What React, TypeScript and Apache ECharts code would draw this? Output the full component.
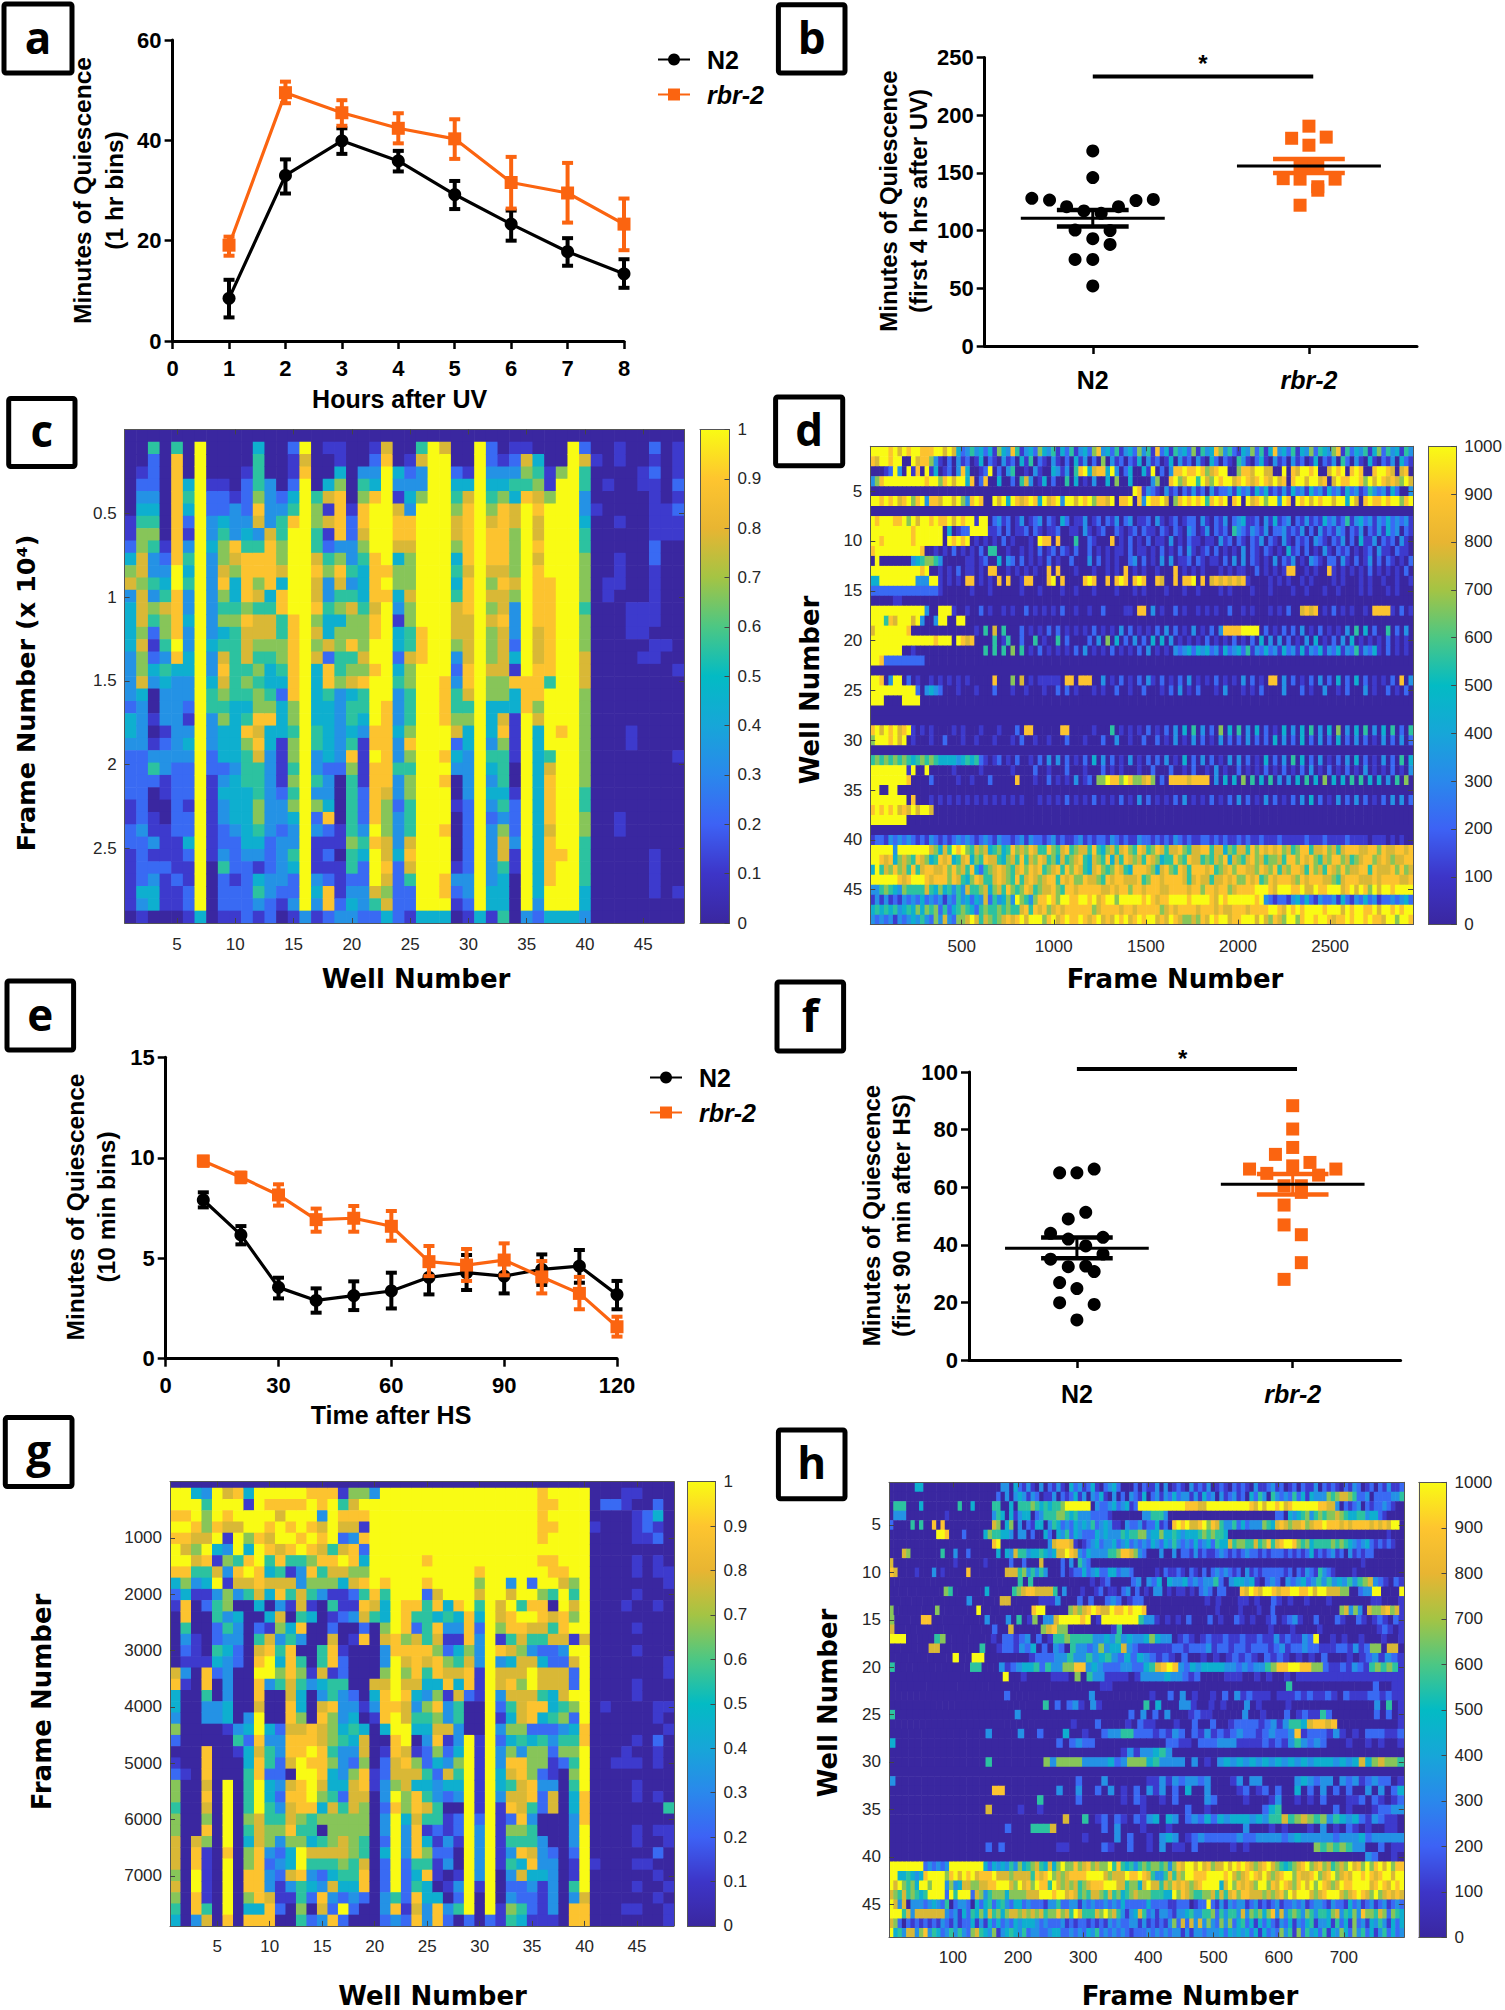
import React, { useEffect, useRef } from "react";
import * as echarts from "echarts";

// ---------- panels a / e: time courses ----------
const hoursA = [1, 2, 3, 4, 5, 6, 7, 8];
const n2A = [8.5, 33, 39.9, 35.9, 29.2, 23.3, 17.8, 13.4];
const n2ALow = [4.7, 29.4, 37.3, 33.8, 26.3, 20, 15, 10.6];
const n2AHigh = [12.2, 36.2, 42.4, 37.9, 31.9, 26, 20.5, 16.3];
const rbrA = [19.1, 49.5, 45.5, 42.4, 40.3, 31.6, 29.5, 23.3];
const rbrALow = [17, 47.4, 42.9, 39.4, 36.3, 26.4, 23.6, 18.1];
const rbrAHigh = [20.8, 51.7, 48, 45.4, 44.2, 36.7, 35.5, 28.4];

const timeE = [10, 20, 30, 40, 50, 60, 70, 80, 90, 100, 110, 120];
const n2E = [7.9, 6.16, 3.55, 2.9, 3.14, 3.37, 4.05, 4.28, 4.11, 4.45, 4.61, 3.19];
const n2ELow = [7.53, 5.69, 3.0, 2.29, 2.42, 2.5, 3.2, 3.42, 3.25, 3.67, 3.78, 2.46];
const n2EHigh = [8.28, 6.6, 4.03, 3.5, 3.85, 4.28, 4.75, 5.16, 4.9, 5.19, 5.41, 3.87];
const rbrE = [9.84, 9.03, 8.15, 6.92, 6.99, 6.59, 4.83, 4.66, 4.91, 4.07, 3.25, 1.59];
const rbrELow = [9.6, 8.78, 7.62, 6.32, 6.32, 5.87, 4.11, 3.87, 4.15, 3.25, 2.46, 1.1];
const rbrEHigh = [10.05, 9.26, 8.68, 7.47, 7.6, 7.35, 5.61, 5.46, 5.74, 4.86, 4.07, 2.09];

// ---------- panels b / f: per-experiment points [x position, minutes] ----------
const n2B = [[1, 169], [1, 146], [0.718, 128], [0.8, 126.5], [0.879, 120.7], [0.959, 117], [1.039, 115], [1.119, 120.7], [1.2, 126], [1.28, 127], [0.918, 100.5], [1.08, 100], [1, 93], [1.08, 88], [0.918, 75], [1, 75], [1, 52]];
const rbrB = [[2, 190.5], [1.92, 180], [2.08, 181], [2, 174], [2, 156], [1.959, 156], [2.041, 156], [1.881, 145], [1.959, 144.6], [2.121, 144.6], [2.041, 138], [2.041, 135], [1.959, 122]];
const statB = { n2: [110.6, 103.6, 117.8], rbr: [156, 150, 162], bar: 233.5 };

const n2F = [[1.08, 66.3], [0.92, 65], [1, 65], [1.041, 51.3], [0.96, 49], [0.878, 44], [1.121, 42.6], [0.96, 42], [1.041, 39.6], [1.121, 36.8], [0.878, 35], [0.96, 32.4], [1.041, 32.6], [1.08, 30.7], [0.92, 26.9], [1, 24.8], [0.92, 19.9], [1.08, 19.3], [1, 13.9]];
const rbrF = [[2, 88.3], [2, 80.2], [2, 73.8], [1.92, 71.4], [2.08, 68.6], [2, 67.4], [1.8, 66.3], [2.2, 66.3], [1.88, 64.8], [2.12, 64.2], [1.96, 60.5], [2.04, 60.5], [2.04, 58.2], [1.96, 53.8], [1.96, 46.9], [2.04, 43.5], [2.04, 33.8], [1.96, 28]];
const statF = { n2: [38.8, 35.3, 42.5], rbr: [61, 57.5, 64.6], bar: 101 };

// ---------- heat maps: one digit per cell, 0 (none) to 9 (full scale) ----------
// panel c: one string per well, read from top to bottom
const wellsC = [
"0000000112467344443333244322221122111110",
"0001234566776777676674333322222232222431",
"0522234565335365212430010135200113123440",
"0000000001234576653543331233110011121110",
"0588888888899888898433333332222221112110",
"0000454213545334334433213432221224211221",
"0999999999999999999999999999999999999994",
"0000122334333333343345533322111111100000",
"0000122456678656457876564442343322352221",
"0000013338764456555555444443444432221221",
"0001222345888868777565458655544444322222",
"0455568735886757765656687875556654314531",
"0000333378888457765445684433333332223322",
"0000023556674885566542444111123323333210",
"0211245899999998888888665665656433542231",
"0978999999999999999999999999999999999993",
"0000056655787786767444445533536231113431",
"0100471712563354472885444442334821212882",
"0114688883687564665563333332000011011123",
"0000001223353576685674554586555556552343",
"0003568876544456667685543111122235422332",
"0123489999888878899899998898888898999752",
"0789999999989899999999888888876667787674",
"0004317887466431442453334335332333422222",
"0012343887666766557665556865665557875221",
"0573369999999999888999999999999999999994",
"0999999999999999999999999999999999999994",
"0799999999999999999988889989899989998894",
"0002456776454577763235567243001000013210",
"0001478888878887777887564433332222223321",
"0999999999999999999999999999999999999994",
"0223456788876767666766444354343233333441",
"0013468888878778777766478655545367754445",
"0123547766667633324184411110012223110000",
"0176589999999999999988899999999999999993",
"0045678778788888777888674444444444444432",
"0001169999998888888859999957888878888994",
"0006999999999999999999998999999999899994",
"0999999999999999999999999999999999999994",
"0275533455666656667776666666655665555443",
"0010001000000000000000000000000000000000",
"0000100000001100000000000000000000000000",
"0110000100111000000000000000000110000000",
"0000000000000011100000001100000000000000",
"0001100000000011101000000000000000000000",
"0212111112211111011000000000000000111100",
"0000001110000000010000000000000000000000",
"0111212110000000000100000010000000000100",
];

// panel d: one string per well, read from left to right
const wellsD = [
"999989798998889979742353424164385134264351425134268342513426351824153426153486352143625148342514362543681524351462534153",
"879989900978863102031201402103120415021031020413020603120214031201403120310420210531024103120312014021305203104102130421",
"000129309180914012038400129020350010310043130589478849302400419020388988986789900688799770090879989007989089800899870780",
"368999999999899689799480280040020573014020050401030040600400003600896799597698997898789879780899799780798899869798787697",
"000000000000000000000000000000000000000000000000000000000098132103120213120312231423142412131423142314231423125323142003",
"998989789689388799796389800979498789849789399798968879088908398897068989895898908909789699398098979899799497089889899689",
"0",
"989998896979989889798991990231201301230210420113012021302301120310120122031021302341120314123021312142312513423132423231",
"999999999899999904012299991120201120210112001103101200210120211021021032013021205321321302231213020312132021302131423021",
"998999999899999909898901010102010001098808000500210008010201020110301021101103120210213021031021203210213020411302120310",
"899999999998001010201010205500100101020120210200201010110201101020102031012020101030210210104120201031021201012031102110",
"090000000345665300000110120040320201010201002000302010100230201030301120210110203030210103021301032102203102013020210102",
"999999999998900101020110108800101010100808000100010010108010100100080101010001010110020101018800101008101010102010101020",
"449999999933399101010880101080800188000890800008980080898089800870080889080787878781000010101001010000101000101001001001",
"222222222222222100000010001000000100010000100100010000100010100001000100100001010000100010000100100010010000101000101000",
"000001100000000000000000000000000000000000000000000000000000000000000000000000000000000000000000000000000000000000000000",
"999999999999300999100100201001010020101010200100100200001108803010020100101010020010100010102007878010201010010888810201",
"999587999793003990099000000000000000000000000000000000000000000000000000000000000000000000000000000000000000000000000000",
"799999998000000000000001050705000201010202010101020101030201010203020103010203888899990201020203010201010305040200502030",
"999999999999998999098780000501500200501005020000203060402030204040301010102010102010204030302010304010203040101010201010",
"999999900100000000000000050505060501020101010203010102010102030101032342434231423425132423142314132413241325132410201010",
"998222222222000000000000000000000000000000000000000000000000000000000000000000000000000000000000000000000000000000000000",
"0",
"998039902010010101010100000800060701011111088088800301020102031020102030101020101030201088030201020302040204020101020803",
"999999999920343200010001000200010010001002020100010100200100200010203010200010300010102000030002010030010200030100201020",
"999000099990000000000000000000000000000000000000000000000000000000000000000000000000000000000000000000000000000000000000",
"0",
"0",
"897989789101010000101000100010002088000000880000010005010101020102030405030206040503040201040304050304060304050304050205",
"699989790100010020001001000100010200100100020001000200300100200201030103020103020203020204030204020302040203020103020302",
"0",
"565656565456565444434545210120102001020303020102040302010301020203010402030201030302010402030504020301020304020103020504",
"999999991900900000100000100000010000200100020001000201010001002000200102001030100201010201020102030102010201030101020103",
"999999998000020000010010002000008000100201010301206698869866786020888878888030404060504050303040504060404050504040305060",
"990099000000000000000000000000000000000000000000000000000000000000000000000000000000000000000000000000000000000000000000",
"999999990800010101010101010101010100010101020101020101020103020101020301010201020302010302010203040201030203020102030302",
"898989787979970000000000000000000000000000000000000000000000000000000000000000000000000000000000000000000000000000000000",
"999999990000000000000000000000000000000000000000000000000000000000000000000000000000000000000000000000000000000000000000",
"0",
"122132323212132121232321232132212313221231211231212213212113221212132121122121211212112111211111211121111211110111010100",
"999993999999976475989657674564586768755865785677585467578658756875778657788577465775868787867568857786757888778868778878",
"998784676587645878457846587754675857687564756785476584758767587645586587756576847657867566758868786576886756788678767788",
"495768675857887786867584256787657868785678586875478656875488876478658758887856786887768768576887586758768677885877786867",
"999999878999878886875468755787658578767885878668776587887778568878888757877577878668785687888768788877657888777878888778",
"335654365555754645353755674675865687567786588788888778788688788877888878868878867888899987999889779889997897986979989999",
"131312132324232313253424372534639653688986998899897899699999898788999989999879899999989321221342421322314213242312232342",
"454545345464656252456542565565655785878678788888867888878878888867878888788878778887888899879898999989997989988979989899",
"323231323435326373266797576567878979996897898898789787989789899787987667687989978899979768769968998998788989989887996998",
];

// panel g: one string per well, read from top to bottom
const wellsG = [
"0998989984210000078443620126656677767654",
"0998987986488532131000000010000000000000",
"0499876753100011100000000000000078899883",
"0356679854120000188533008887876861111157",
"0999894179355225420033000000000000000000",
"0798713631663534333344100009999998999998",
"0899799587304332200000351000000000000000",
"0419964897500000000003424455556546688648",
"0999989988740257898879987889997778888848",
"0989878547404178993000435524455663233788",
"0987997857837635465000233223235632321120",
"0989898517510458887788788707877864473100",
"0989989533775830565446788998886569985565",
"0899898686514000013000889899985547534202",
"0883787856300005574378778887646057523873",
"0899995876151278815586665644576667547328",
"0158727974112001225333453334256677654292",
"0678738867213010000234543267776666554320",
"0698182468587280000010477688766655788200",
"0399999999875000007431000011000000000000",
"0999999998544673367888401223323324222332",
"0999999999999988999989988776989999999583",
"0999999999988868767877997877664333222212",
"0999999999985278887435401674887888545878",
"0999999898255558754365432254575146584433",
"0999999999784876884686786423355212110488",
"0999999999945312678133712374201132301032",
"0999999999984314574755334654302210013250",
"0999999999998886788200099999999999999992",
"0999999986754233311100011111112333331000",
"0999999999999999999999999999999999999992",
"0999999999977618377321323344311111100011",
"0999999993798857478754646875782653532365",
"0999999999959876776777653887778658472254",
"0999999992989753799788246668853557843221",
"0888889899688752477584256623220033341111",
"0989899889507572277445232113770002333331",
"0999999987998873277756356200000000000000",
"0999999996576919722962456565443332115388",
"0999999999999979999999889999888999999788",
"0000100000000000000000000000000000100000",
"0020000000000000000010000000000000000000",
"0020000000000000000000000100000000000000",
"0110000000010000000000001100000000000010",
"0101110110100101001100010101100110101010",
"0002210000000000000000000000000000100000",
"0024120110010000000011021100100102010100",
"0000000011000000110010100000050110001011",
];

// panel h: one string per well, read from left to right
const wellsH = [
"000000440000000000000000003304213103021310423124102342000202113030121031213012102121031123120120211302121021320120213112",
"000000000000000000000000020303431320113021241303241030203214023132423313142303123120425305323252414333656776522302222335",
"055500040000000050040000550040555654545569999990322342341299999999999888779999999999879799897899999988773021230212232100",
"033300000000010000000000354041344023555665453332222100000003355530000000000000000000000000220434563565667654455344210000",
"200005050080800000000000760460302144035423243435234311032231224120898977896875335242333654787677867889888787888878787990",
"000000000009980002000046554430330200420435243222434333545566344644543444565655400000000000000000000000000000000000001000",
"000000000000000000000000890000000000037888710123423342342323243243532324234254475665575685789986564555565654323421212100",
"000760000000500300200000040437553445434779873243333556887632000300302213121123212123221212221212124121231203121220000000",
"700000000000000100000010000020020007000020305320000000000000000000000000000000000000000000000000000000000000001000000000",
"870000100030100000800000000777563535300020122423422442332000001021121021020232321203121222221202132153210000100000000000",
"0000000000000000000000000505000000000001012000023032404334232335203443410232032342353534353567321021",
"00000000000065000000040000056788777750300010012011023020103301011010232022000879879987889988979977766002339900009",
"000000000000003000007700000111300020200232012200000000000101000110100210100100010000000110001",
"6000000000600000000900000000000899000006767898779889899800000000000000010000100010020000000000000067363076678671",
"6000008800000000003000305016033799998901999999953310101020002010021010012012310020002100210121021",
"70000000000000000002007000006786600000000150000000000000000000000000001000100001000000000012101",
"9990000056000000001022123020155655553343534334643301210121121121121131211329001010010001001",
"0000000770000000500122132402032053323634473211111122122231221221222123122322111221312660770",
"000000000090099000000012223353353453242432121020010101212102121010102000101231321",
"50000000000000550003123445253366883432223322457898324344443323233568899886621121321565651",
"00000000000000000009001000011106053311110133334332120000111001010010111111111111111111",
"00000000000000000000000000000000001100000000000000000000000000005000000000000020011",
"0000000000000000000200000000000003000000000100203010010203121110111212112102111221211",
"000000000000000000000000005020231031000000050400033100101000301000010000000000000030501",
"50000000000000000000030000000000000000002030203000121100000300100020121152000000020201",
"0000000000000000000000000000001000200001021100010020020012222123135547887800000000001",
"00000000000000030000300200040010023355222121320213121232212322381222131010222112",
"40000000000000000000000000202322000000000002211022233311112121353232000100101001",
"00000000000000000000000000000000000013133453000000000000000000000000000000000000",
"00000000000000050000000063666633334236664533330301034343434343434344434347467665",
"0",
"30000000000000000000000000000200030000001131323323000130330000034323303231232201",
"00000000000000008800000000300300203010203130204003000012012020040203020200303024",
"00000000000000000000000500000200000010210010200003200001000130010102000112021012",
"00000000000000070000100100000000000000010000002001000000002450000000020100012233",
"00000000000000000000000000070050120210213404302324243444343557567656354342132110",
"00000000000000000020005557000000020300010001000000000003000101000103010210100110",
"00000000000000000000000000000010000302001034301232222232233332343333323334233333",
"00000000000000020200000000110000021002001030110200000101000000000065656533002011",
"00000000000000000000000000000000000000000000000000000000000000000000000000320010",
"999999992323239999999942434353645675474696686786766958545356566563687997978677979898767897654567896786756769786968979688",
"994454348999968979897888977767777587896767888899997677798898753357576998889999897678987976789968778967896787998987899799",
"979656499699936347766778899976978698859767675678889997756647977576878767899994796878769968798768979698767988999978987989",
"765756545999929599927635666466667779998997875657765756456766655544968765566757578688777676786979997678999767898769678787",
"973703332343250233204245245324423222133522331323223232422222422221122201229213132331231212312232312332132214231231231232",
"999573777777732314254647564677676767566867597555769675313475231332133453355625355373656468373565365355467354638665762654",
"762021212121321312241314242324344432322231212212121323223313121213627273736326362452414242132413245133415241623143531424",
"945377368354235353267543613454352332234422323243523232321222323232331313323334243434241423263516253425143642635241352423",
];

const PARULA = ["#3a27a0", "#3d35c8", "#3d62f5", "#2a88ec", "#17a6d8", "#03bbc4", "#4cc784", "#a4c444", "#e8b532", "#fec52f", "#f9fb14"];
const ORANGE = "#fb6410";
const SANS = '"Liberation Sans", Arial, sans-serif';
const HEAVY = '"DejaVu Sans", sans-serif';
const PANEL_FONT = '"Open Sans", "Noto Sans", sans-serif';

const px = (l: number, t: number, r: number, b: number) => ({ left: l, top: t, width: r - l, height: b - t, containLabel: false });
const plain = (v: number) => String(v);

const renderError = (capPx: number, color: string, w: number) => (_p: any, api: any) => {
  const top = api.coord([api.value(0), api.value(2)]);
  const bot = api.coord([api.value(0), api.value(1)]);
  const st = { stroke: color, lineWidth: w };
  return {
    type: "group",
    children: [
      { type: "line", shape: { x1: top[0], y1: top[1], x2: bot[0], y2: bot[1] }, style: st },
      { type: "line", shape: { x1: top[0] - capPx, y1: top[1], x2: top[0] + capPx, y2: top[1] }, style: st },
      { type: "line", shape: { x1: bot[0] - capPx, y1: bot[1], x2: bot[0] + capPx, y2: bot[1] }, style: st },
    ],
  };
};

// data item: [group x, mean, low, high]
const renderMean = (color: string) => (_p: any, api: any) => {
  const x = api.value(0);
  const seg = (x1: number, v1: number, x2: number, v2: number, c: string, w: number) => {
    const a = api.coord([x1, v1]);
    const b = api.coord([x2, v2]);
    return { type: "line", shape: { x1: a[0], y1: a[1], x2: b[0], y2: b[1] }, style: { stroke: c, lineWidth: w } };
  };
  return {
    type: "group",
    children: [
      seg(x, api.value(2), x, api.value(3), color, 3),
      seg(x - 0.166, api.value(2), x + 0.166, api.value(2), color, 4.5),
      seg(x - 0.166, api.value(3), x + 0.166, api.value(3), color, 4.5),
      seg(x - 0.333, api.value(1), x + 0.333, api.value(1), "#000", 3),
    ],
  };
};

const renderCell = (_p: any, api: any) => {
  const a = api.coord([api.value(0), api.value(2)]);
  const b = api.coord([api.value(1), api.value(3)]);
  return {
    type: "rect",
    shape: {
      x: Math.min(a[0], b[0]),
      y: Math.min(a[1], b[1]),
      width: Math.abs(b[0] - a[0]) + 0.6,
      height: Math.abs(b[1] - a[1]) + 0.6,
    },
    style: { fill: api.visual("color") },
  };
};

// strings to cells; vertical=true means each string is a column of the map
const cells = (rows: string[], vertical: boolean, x0: number, x1: number, y0: number, y1: number, full: number) => {
  const out: number[][] = [];
  rows.forEach((s, i) => {
    for (let j = 0; j < s.length; j++) {
      const v = (Number(s[j]) / 9) * full;
      if (vertical) {
        const cw = (x1 - x0) / rows.length;
        const ch = (y1 - y0) / s.length;
        out.push([x0 + i * cw, x0 + (i + 1) * cw, y0 + j * ch, y0 + (j + 1) * ch, v]);
      } else {
        const cw = (x1 - x0) / s.length;
        const ch = (y1 - y0) / rows.length;
        out.push([x0 + j * cw, x0 + (j + 1) * cw, y0 + i * ch, y0 + (i + 1) * ch, v]);
      }
    }
  });
  return out;
};

function buildOption() {
  const grid: any[] = [];
  const xAxis: any[] = [];
  const yAxis: any[] = [];
  const series: any[] = [];
  const cellSeries01: number[] = [];
  const cellSeries1000: number[] = [];

  const prismAxes = (g: any, x: any, y: any) => {
    const gi = grid.length;
    grid.push(g);
    const xi = xAxis.length;
    const yi = yAxis.length;
    const label = { fontFamily: SANS, fontWeight: "bold", fontSize: 22, color: "#000" };
    xAxis.push({
      gridIndex: gi, type: "value", splitLine: { show: false }, z: 5,
      axisLine: { onZero: false, lineStyle: { color: "#000", width: 3 } },
      axisTick: { length: 8, lineStyle: { color: "#000", width: 2.5 } },
      ...x, axisLabel: { ...label, margin: 16, hideOverlap: false, showMinLabel: true, showMaxLabel: true, ...x.axisLabel },
    });
    yAxis.push({
      gridIndex: gi, type: "value", splitLine: { show: false }, z: 5,
      axisLine: { onZero: false, lineStyle: { color: "#000", width: 3 } },
      axisTick: { length: 8, lineStyle: { color: "#000", width: 2.5 } },
      ...y, axisLabel: { ...label, margin: 11, showMinLabel: true, showMaxLabel: true },
    });
    return { xi, yi };
  };

  const boxAxes = (g: any, xr: number[], yr: number[], xt: number[], yt: number[], xm: number) => {
    const gi = grid.length;
    grid.push(g);
    const xi = xAxis.length;
    const yi = yAxis.length;
    const line = { show: true, onZero: false, lineStyle: { color: "#555", width: 1 } };
    const tick = { show: true, inside: true, length: 5, lineStyle: { color: "#444", width: 1 } };
    const lab = { fontFamily: SANS, fontSize: 17, color: "#262626", showMinLabel: true, showMaxLabel: true, formatter: plain };
    xAxis.push({ gridIndex: gi, type: "value", min: xr[0], max: xr[1], position: "bottom", z: 5, splitLine: { show: false }, axisLine: line, axisTick: { ...tick, customValues: xt }, axisLabel: { ...lab, customValues: xt, margin: xm } });
    xAxis.push({ gridIndex: gi, type: "value", min: xr[0], max: xr[1], position: "top", z: 5, splitLine: { show: false }, axisLine: line, axisTick: { ...tick, customValues: xt }, axisLabel: { show: false } });
    yAxis.push({ gridIndex: gi, type: "value", inverse: true, min: yr[0], max: yr[1], position: "left", z: 5, splitLine: { show: false }, axisLine: line, axisTick: { ...tick, customValues: yt }, axisLabel: { ...lab, customValues: yt, margin: 8 } });
    yAxis.push({ gridIndex: gi, type: "value", inverse: true, min: yr[0], max: yr[1], position: "right", z: 5, splitLine: { show: false }, axisLine: line, axisTick: { ...tick, customValues: yt }, axisLabel: { show: false } });
    return { xi, yi };
  };

  const colorbar = (g: any, full: number, step: number) => {
    const gi = grid.length;
    grid.push(g);
    const xi = xAxis.length;
    const yi = yAxis.length;
    const line = { show: true, onZero: false, lineStyle: { color: "#555", width: 1 } };
    const cat = { gridIndex: gi, type: "category", data: ["scale"], z: 5, axisLine: line, axisTick: { show: false }, axisLabel: { show: false } };
    xAxis.push({ ...cat, position: "bottom" }, { ...cat, position: "top" });
    yAxis.push({
      gridIndex: gi, type: "value", min: 0, max: full, interval: step, position: "right", z: 5, splitLine: { show: false }, axisLine: line,
      axisTick: { show: true, inside: true, length: 5, lineStyle: { color: "#444", width: 1 } },
      axisLabel: { fontFamily: SANS, fontSize: 17, color: "#262626", margin: 8, showMinLabel: true, showMaxLabel: true, formatter: plain },
    });
    yAxis.push({ gridIndex: gi, type: "value", min: 0, max: full, position: "left", z: 5, splitLine: { show: false }, axisLine: line, axisTick: { show: false }, axisLabel: { show: false } });
    series.push({
      type: "bar", name: "scale " + gi, xAxisIndex: xi, yAxisIndex: yi, barWidth: "100%", data: [full], silent: true,
      itemStyle: {
        color: new echarts.graphic.LinearGradient(0, 0, 0, 1, PARULA.map((c, i) => ({ offset: 1 - i / (PARULA.length - 1), color: c })).reverse()),
      },
    });
  };

  const timeCourse = (
    a: { xi: number; yi: number }, xs: number[],
    n2: number[], nl: number[], nh: number[], rb: number[], rl: number[], rh: number[],
  ) => {
    const zip3 = (l: number[], h: number[]) => xs.map((x, i) => [x, l[i], h[i]]);
    const base = { xAxisIndex: a.xi, yAxisIndex: a.yi };
    series.push({ ...base, type: "custom", name: "N2 SEM", data: zip3(nl, nh), renderItem: renderError(5.5, "#000", 4), encode: { x: 0, y: [1, 2] }, silent: true, z: 3 });
    series.push({ ...base, type: "line", name: "N2", data: xs.map((x, i) => [x, n2[i]]), symbol: "circle", symbolSize: 13, lineStyle: { color: "#000", width: 3.2 }, itemStyle: { color: "#000" }, z: 3 });
    series.push({ ...base, type: "custom", name: "rbr-2 SEM", data: zip3(rl, rh), renderItem: renderError(5.5, ORANGE, 4), encode: { x: 0, y: [1, 2] }, silent: true, z: 4 });
    series.push({ ...base, type: "line", name: "rbr-2", data: xs.map((x, i) => [x, rb[i]]), symbol: "rect", symbolSize: 13, lineStyle: { color: ORANGE, width: 3.2 }, itemStyle: { color: ORANGE }, z: 4 });
  };

  const dotPlot = (a: { xi: number; yi: number }, n2: number[][], rb: number[][], stat: any) => {
    const base = { xAxisIndex: a.xi, yAxisIndex: a.yi };
    series.push({ ...base, type: "scatter", name: "N2 wells", data: n2, symbol: "circle", symbolSize: 13, itemStyle: { color: "#000", opacity: 1 }, z: 3 });
    series.push({ ...base, type: "scatter", name: "rbr-2 wells", data: rb, symbol: "rect", symbolSize: 13, itemStyle: { color: ORANGE, opacity: 1 }, z: 3 });
    series.push({ ...base, type: "custom", name: "N2 mean", data: [[1, ...stat.n2]], renderItem: renderMean("#000"), encode: { x: 0, y: [1, 2, 3] }, silent: true, z: 4 });
    series.push({ ...base, type: "custom", name: "rbr-2 mean", data: [[2, ...stat.rbr]], renderItem: renderMean(ORANGE), encode: { x: 0, y: [1, 2, 3] }, silent: true, z: 4 });
    series.push({ ...base, type: "line", name: "significance", data: [[1, stat.bar], [2.02, stat.bar]], symbol: "none", clip: false, lineStyle: { color: "#000", width: 4 }, z: 4, silent: true });
  };

  const heat = (a: { xi: number; yi: number }, data: number[][], list: number[]) => {
    list.push(series.length);
    series.push({ type: "custom", name: "map " + series.length, xAxisIndex: a.xi, yAxisIndex: a.yi, data, renderItem: renderCell, encode: { x: [0, 1], y: [2, 3] }, silent: true, clip: true, progressive: 0, z: 2 });
  };

  const groupLabels = {
    customValues: [1, 2],
    formatter: (v: number) => (v === 1 ? "N2" : "{i|rbr-2}"),
    fontSize: 25,
    margin: 21,
    rich: { i: { fontFamily: SANS, fontWeight: "bold", fontStyle: "italic", fontSize: 25, color: "#000" } },
  };
  const groupX = { min: 0.5, max: 2.5, axisTick: { length: 8, customValues: [1, 2], lineStyle: { color: "#000", width: 2.5 } }, axisLabel: groupLabels };

  // a
  const aA = prismAxes(px(172.6, 40, 624, 341), { min: 0, max: 8, interval: 1 }, { min: 0, max: 60, interval: 20 });
  timeCourse(aA, hoursA, n2A, n2ALow, n2AHigh, rbrA, rbrALow, rbrAHigh);
  // b
  const aB = prismAxes(px(984.7, 57.5, 1417, 346), groupX, { min: 0, max: 250, interval: 50 });
  dotPlot(aB, n2B, rbrB, statB);
  // c
  const aC = boxAxes(px(124.6, 429.4, 684, 923), [0.5, 48.5], [0, 2.945], [5, 10, 15, 20, 25, 30, 35, 40, 45], [0.5, 1, 1.5, 2, 2.5], 13);
  heat(aC, cells(wellsC, true, 0.5, 48.5, 0, 2.945, 1), cellSeries01);
  colorbar(px(700, 429.4, 729.5, 923), 1, 0.1);
  // d
  const aD = boxAxes(px(870.3, 446.3, 1413, 924.6), [4, 2950], [0.5, 48.5], [500, 1000, 1500, 2000, 2500], [5, 10, 15, 20, 25, 30, 35, 40, 45], 13);
  heat(aD, cells(wellsD, false, 4, 2950, 0.5, 48.5, 1000), cellSeries1000);
  colorbar(px(1428.7, 446.3, 1457.8, 924.6), 1000, 100);
  // e
  const aE = prismAxes(px(165.7, 1057.3, 617, 1358.7), { min: 0, max: 120, interval: 30 }, { min: 0, max: 15, interval: 5 });
  timeCourse(aE, timeE, n2E, n2ELow, n2EHigh, rbrE, rbrELow, rbrEHigh);
  // f
  const aF = prismAxes(px(969, 1072, 1400.6, 1360), groupX, { min: 0, max: 100, interval: 20 });
  dotPlot(aF, n2F, rbrF, statF);
  // g
  const aG = boxAxes(px(170, 1481.6, 673.8, 1925.9), [0.5, 48.5], [0, 7890], [5, 10, 15, 20, 25, 30, 35, 40, 45], [1000, 2000, 3000, 4000, 5000, 6000, 7000], 12);
  heat(aG, cells(wellsG, true, 0.5, 48.5, -90, 7890, 1), cellSeries01);
  colorbar(px(687.4, 1481.6, 715.5, 1925.9), 1, 0.1);
  // h
  const aH = boxAxes(px(889, 1482.3, 1403.8, 1937.4), [2, 792], [0.5, 48.5], [100, 200, 300, 400, 500, 600, 700], [5, 10, 15, 20, 25, 30, 35, 40, 45], 12);
  heat(aH, cells(wellsH, false, 2, 792, 0.5, 48.5, 1000), cellSeries1000);
  colorbar(px(1418.8, 1482.3, 1446.5, 1937.4), 1000, 100);

  const box = (letter: string, l: number, t: number, r: number, b: number) => [
    { type: "rect", z: 20, shape: { x: l, y: t, width: r - l, height: b - t, r: 2 }, style: { fill: "#fff", stroke: "#000", lineWidth: 5 } },
    { type: "text", z: 21, x: (l + r) / 2, y: (t + b) / 2 - 2, style: { text: letter, font: `bold 44px ${PANEL_FONT}`, fill: "#000", align: "center", verticalAlign: "middle" } },
  ];
  const title = (t: string, x: number, y: number, font: string, vertical = false, lh?: number) => ({
    type: "text", z: 20, x, y, rotation: vertical ? Math.PI / 2 : 0,
    style: { text: t, font, fill: "#000", align: "center", verticalAlign: "middle", lineHeight: lh },
  });
  const prismT = `bold 24.5px ${SANS}`;
  const prismX = `bold 25px ${SANS}`;
  const prismS = `bold 24px ${SANS}`;
  const heatT = `bold 26px ${HEAVY}`;

  const graphic = [
    ...box("a", 4, 4, 72, 73),
    ...box("b", 778.4, 4.7, 845, 73),
    ...box("c", 8.7, 398.4, 75, 466.5),
    ...box("d", 775.6, 397, 842.7, 465.8),
    ...box("e", 7, 981, 73.6, 1050),
    ...box("f", 777, 982, 843.6, 1051),
    ...box("g", 5.3, 1417.6, 72, 1486.5),
    ...box("h", 778.4, 1430, 845, 1498.8),
    title("Minutes of Quiescence\n(1 hr bins)", 98.5, 190.5, prismT, true, 32),
    title("Hours after UV", 399.6, 399, prismX),
    title("Minutes of Quiescence\n(first 4 hrs after UV)", 903, 201, prismS, true, 30),
    title("*", 1203, 63, `bold 24px ${SANS}`),
    title("Frame Number (x 10\u2074)", 26, 693, `bold 25.5px ${HEAVY}`, true),
    title("Well Number", 416, 979, heatT),
    title("Well Number", 810, 690, heatT, true),
    title("Frame Number", 1175, 979, heatT),
    title("Minutes of Quiescence\n(10 min bins)", 91, 1207, prismT, true, 31),
    title("Time after HS", 391, 1415, prismX),
    title("Minutes of Quiescence\n(first 90 min after HS)", 886, 1215.6, prismS, true, 30),
    title("*", 1182.6, 1058, `bold 24px ${SANS}`),
    title("Frame Number", 42, 1702, heatT, true),
    title("Well Number", 432.5, 1996, heatT),
    title("Well Number", 828, 1703, heatT, true),
    title("Frame Number", 1190, 1996, heatT),
  ];

  const legendFor = (left: number, top: number) => ({
    left, top, orient: "vertical", itemGap: 10, itemWidth: 32, itemHeight: 15, selectedMode: false,
    data: ["N2", "rbr-2"],
    formatter: (n: string) => (n === "rbr-2" ? `{i|${n}}` : n),
    textStyle: {
      fontFamily: SANS, fontWeight: "bold", fontSize: 25, color: "#000", padding: [0, 0, 0, 12],
      rich: { i: { fontFamily: SANS, fontWeight: "bold", fontStyle: "italic", fontSize: 25, color: "#000" } },
    },
  });

  return {
    animation: false,
    backgroundColor: "#fff",
    grid, xAxis, yAxis, series, graphic,
    legend: [legendFor(652, 42), legendFor(644, 1060)],
    visualMap: [
      { type: "continuous", show: false, dimension: 4, min: 0, max: 1, seriesIndex: cellSeries01, inRange: { color: PARULA } },
      { type: "continuous", show: false, dimension: 4, min: 0, max: 1000, seriesIndex: cellSeries1000, inRange: { color: PARULA } },
    ],
  };
}

export default function App() {
  const ref = useRef<HTMLDivElement>(null);
  useEffect(() => {
    if (!ref.current) return;
    const chart = echarts.init(ref.current, undefined, { renderer: "svg" });
    chart.setOption(buildOption() as any);
    return () => chart.dispose();
  }, []);
  return <div ref={ref} style={{ position: "absolute", left: 0, top: 0, width: 1505, height: 2010 }} />;
}
